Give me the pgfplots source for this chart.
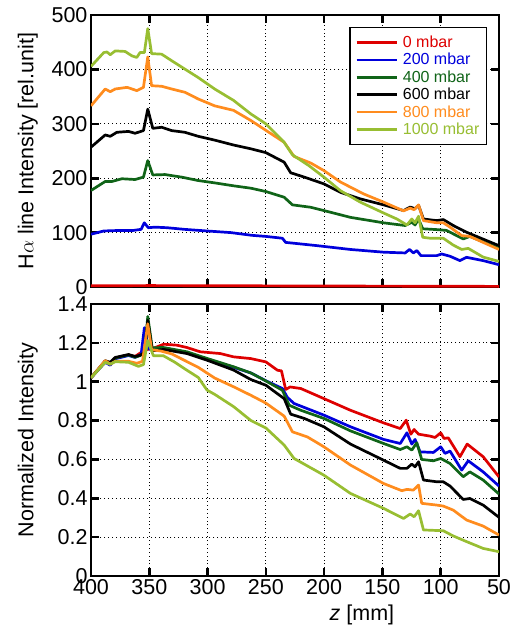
\documentclass[border=0pt]{standalone}
\usepackage{fontspec}
\setmainfont{Liberation Sans}
\usepackage{pgfplots}
\pgfplotsset{compat=1.18}

\definecolor{c0}{RGB}{222,0,0}
\definecolor{c1}{RGB}{0,0,220}
\definecolor{c2}{RGB}{16,100,24}
\definecolor{c3}{RGB}{0,0,0}
\definecolor{c4}{RGB}{255,140,30}
\definecolor{c5}{RGB}{152,190,50}

\pgfplotsset{
  panel/.style={
    scale only axis, width=408pt, height=272pt,
    anchor=south west,
    x dir=reverse, xmin=50, xmax=400,
    xtick={50,100,150,200,250,300,350,400},
    axis line style={line width=2.6pt},
    tick style={line width=2.6pt, black},
    major tick length=8pt, tick align=inside, tick pos=both,
    grid=major,
    grid style={black, line width=0.9pt, dash pattern=on 0.9pt off 3pt},
    tick label style={font=\fontsize{21.5}{21.5}\selectfont},
    label style={font=\fontsize{21.5}{21.5}\selectfont},
    /pgf/number format/assume math mode=true,
    ylabel style={at={(axis description cs:-0.155,0.5)}, anchor=center},
    every axis plot/.append style={line width=2.7pt, line join=round},
  }
}

\begin{document}
\begin{tikzpicture}[x=1pt,y=1pt]
\path[use as bounding box] (0,0) rectangle (516,-628);

% top panel: raw intensity
\begin{axis}[panel, at={(91pt,-287pt)},
  ymin=0, ymax=500, ytick={0,100,200,300,400,500},
  xticklabels={},
  ylabel={H$\alpha$ line Intensity [rel.unit]},
  legend style={at={(0.971,0.957)}, anchor=north east, draw=black,
    line width=1.6pt, font=\fontsize{16}{16}\selectfont,
    inner xsep=5pt, inner ysep=6.5pt, column sep=3pt, row sep=0.3pt},
  legend cell align=left,
  legend image code/.code={\draw[#1, line width=2.7pt] (0pt,0pt) -- (40pt,0pt);},
]
\addplot[c0] coordinates {
 (400,2.2) (350,2.6) (300,2.4) (250,2.1) (200,1.8) (150,1.6) (100,1.5) (50,1.1)};
\addplot[c1] coordinates {
 (400,97) (389,103) (375,104) (363.6,104) (357,106) (354.3,118) (350.8,109)
 (345,110) (334.8,109) (320,106) (300.5,103) (280,100) (262,95) (250,93)
 (235.8,89.6) (233,82) (206,76) (177.4,69) (149,64) (130.5,62.6) (126.8,69)
 (123.4,62.6) (120.5,67) (117,57.7) (103.4,57.7) (99.2,60.7) (92,56.5)
 (83.5,48.5) (77.8,54.6) (63.6,48.5) (50,41)};
\addplot[c2] coordinates {
 (400,177.4) (387.8,194) (382,194) (373.5,199) (362.2,197.6) (355,202)
 (351.3,232.4) (347,206) (336.5,206.7) (322.3,202) (308,195.7) (293.9,191.4)
 (277.7,186) (262.8,181.6) (250,175.5) (234.3,165) (227.2,151) (211.6,146.6)
 (200.2,140.5) (177.4,128) (149,118) (130.5,113) (124.8,119) (122,114)
 (119,125) (115.4,107) (103.4,105.5) (95,104) (80.7,88.3) (75,93) (63.6,83)
 (50,71)};
\addplot[c3] coordinates {
 (400,257) (387.8,279.5) (383.5,277) (377.8,284.4) (367.8,286) (362.2,282.6)
 (355,287.5) (351.3,327) (347,291.7) (339.4,293.6) (330.8,287.5) (319.5,284.4)
 (308,277) (293.9,270) (277.7,261) (262.8,254) (250,247) (234.3,229.5)
 (228.7,210) (217,202) (200.2,189.6) (186,174) (169,162) (149,151)
 (131.9,140.5) (126.2,147) (122,144) (119,150) (114.8,125) (103.4,122)
 (97.8,124) (89.2,113) (77.8,100.6) (63.6,88) (50,76)};
\addplot[c4] coordinates {
 (400,333) (387.8,364) (383.5,359) (379.2,364) (369,367) (360.7,361) (355,367)
 (351.3,423) (348,370) (339.4,369) (330.8,364) (319.5,358) (308,345.6)
 (293.9,333) (277.7,324.7) (262.8,306) (250,288) (234.3,266) (225.8,240)
 (211.6,228) (200.2,214) (186,193) (166,171) (149,156) (131.9,140)
 (126.2,145) (122.8,142) (119,151) (114.8,122) (103.4,118) (97.8,118)
 (92,110) (82,94.5) (75,93) (63.6,82) (50,69)};
\addplot[c5] coordinates {
 (400,405.5) (389,431) (386.3,432) (383.5,427) (379.2,434) (370.7,433)
 (365,425) (360.7,422) (357.9,431) (354.2,431) (351.3,475) (348,429)
 (339.4,428) (330.8,416) (319.5,400.6) (308,385) (293.9,364) (277.7,343)
 (262.8,318) (250,300) (234.3,266) (227.2,243) (213,223) (200.2,202)
 (186,177) (169,156) (149,136) (137.6,125) (129,114) (124.8,125) (122,118)
 (119,130) (115.4,91.4) (109,89.6) (97.8,89.6) (89.2,77) (82,69) (76.4,71)
 (63.6,55) (50,47)};
\legend{\textcolor{c0}{0 mbar},\textcolor{c1}{200 mbar},\textcolor{c2}{400 mbar},
  \textcolor{c3}{600 mbar},\textcolor{c4}{800 mbar},\textcolor{c5}{1000 mbar}}
\end{axis}

% bottom panel: normalized intensity
\begin{axis}[panel, at={(91pt,-576pt)},
  ymin=0, ymax=1.4, ytick={0,0.2,0.4,0.6,0.8,1,1.2,1.4},
  xlabel={\textit{z} [mm]},
  xlabel style={at={(axis description cs:0.664,-0.143)}, anchor=center},
  ylabel={Normalized Intensity},
]
\addplot[c0] coordinates {
 (400,1.02) (387.8,1.105) (383.5,1.095) (379.2,1.122) (367.8,1.138)
 (362.2,1.13) (358,1.147) (353.6,1.164) (346.5,1.172) (337.7,1.193)
 (326.3,1.188) (317.7,1.176) (306.3,1.154) (289.1,1.145) (277.7,1.128)
 (262.8,1.119) (250,1.102) (240,1.059) (236.6,1.056) (233,0.96) (229.2,0.973)
 (220,0.965) (200.2,0.913) (177.4,0.853) (149,0.788) (134.7,0.759)
 (129.6,0.802) (125.6,0.73) (122.8,0.754) (119,0.73) (109.1,0.72)
 (104.9,0.713) (100,0.737) (97.2,0.708) (93.5,0.711) (83.5,0.614)
 (77.3,0.679) (63.6,0.614) (50,0.51)};
\addplot[c1] coordinates {
 (400,1.02) (387.8,1.1) (383.5,1.085) (379.2,1.118) (367.8,1.135)
 (362.2,1.125) (357,1.14) (354.2,1.278) (350.5,1.17) (346,1.16) (337.7,1.17)
 (317.7,1.15) (300.5,1.115) (277.7,1.074) (262.8,1.045) (250,1.005)
 (235.8,0.965) (231.5,0.919) (225.8,0.888) (200.2,0.828) (177.4,0.768)
 (149,0.703) (134.7,0.682) (129,0.737) (124.8,0.679) (122,0.703)
 (117.7,0.639) (106.3,0.636) (100,0.665) (96.3,0.631) (92,0.643) (82,0.545)
 (76.4,0.593) (63.6,0.536) (50,0.463)};
\addplot[c2] coordinates {
 (400,1.02) (387.8,1.105) (383.5,1.09) (379.2,1.122) (367.8,1.138)
 (362.2,1.126) (358,1.134) (354,1.15) (351.3,1.336) (347.5,1.175)
 (337.7,1.176) (317.7,1.154) (300.5,1.12) (277.7,1.077) (262.8,1.045)
 (250,1.004) (235.8,0.956) (230,0.879) (220,0.853) (200.2,0.811)
 (177.4,0.747) (149,0.682) (134.7,0.651) (129,0.665) (124.8,0.648)
 (120.5,0.686) (116.3,0.6) (106.3,0.593) (100,0.605) (92,0.579)
 (80.7,0.511) (75,0.536) (63.6,0.494) (50,0.422)};
\addplot[c3] coordinates {
 (400,1.02) (387.8,1.108) (383.5,1.1) (379.2,1.125) (367.8,1.14) (362.2,1.13)
 (358,1.136) (354,1.15) (351.3,1.316) (347.5,1.16) (337.7,1.166)
 (317.7,1.145) (300.5,1.111) (277.7,1.06) (262.8,1.011) (250,0.982)
 (234.3,0.913) (228.7,0.833) (217,0.811) (200.2,0.768) (177.4,0.679)
 (149,0.596) (134.7,0.554) (129,0.554) (124.8,0.576) (122,0.562) (119,0.588)
 (114.8,0.494) (103.4,0.485) (97.8,0.485) (92,0.463) (80.7,0.394)
 (75,0.399) (63.6,0.365) (50,0.302)};
\addplot[c4] coordinates {
 (400,1.02) (387.8,1.109) (383.5,1.09) (379.2,1.105) (367.8,1.105)
 (360.7,1.095) (355.8,1.105) (351.3,1.298) (348,1.165) (339.4,1.157)
 (330.8,1.143) (319.5,1.109) (308,1.074) (293.9,1.019) (277.7,0.974)
 (262.8,0.93) (250,0.89) (234.3,0.823) (227.2,0.742) (214.4,0.716)
 (200.2,0.665) (177.4,0.571) (149,0.476) (133.3,0.439) (129,0.446)
 (123.4,0.442) (119,0.468) (116.3,0.374) (103.4,0.365) (97.8,0.36)
 (89.2,0.339) (77.8,0.288) (63.6,0.257) (50,0.211)};
\addplot[c5] coordinates {
 (400,1.02) (387.8,1.1) (383.5,1.09) (379.2,1.103) (367.8,1.1) (359.3,1.079)
 (355,1.088) (351.3,1.212) (346.5,1.134) (338,1.134) (328,1.1) (319.5,1.066)
 (308,1.022) (300.5,0.957) (293.9,0.935) (277.7,0.872) (262.8,0.8) (250,0.762)
 (234.3,0.674) (225.8,0.605) (200.2,0.519) (177.4,0.425) (149,0.348)
 (131.9,0.296) (126.2,0.319) (122.8,0.305) (119,0.336) (114.8,0.237)
 (97.8,0.233) (89.2,0.206) (77.8,0.177) (63.6,0.142) (50,0.125)};
\end{axis}
\end{tikzpicture}
\end{document}
